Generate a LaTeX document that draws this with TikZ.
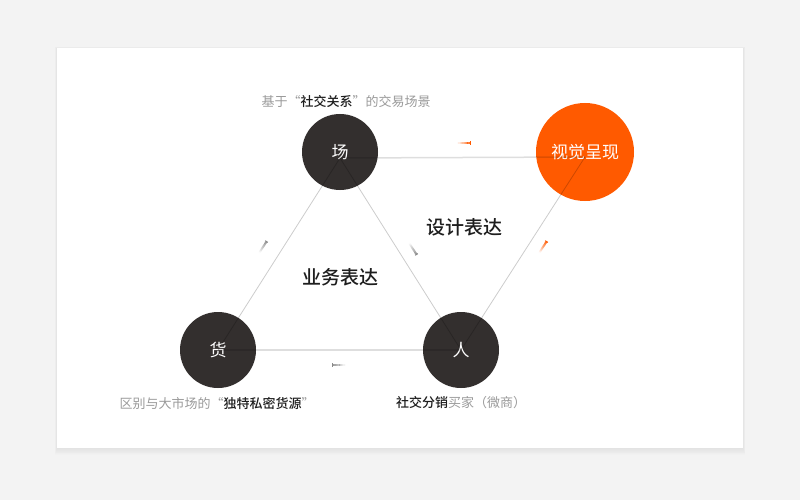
\documentclass[tikz,border=0pt]{standalone}
\usepackage{fontspec}
\setmainfont{Noto Sans CJK SC}
\newfontfamily\medfont{Noto Sans CJK SC Medium}
\usetikzlibrary{calc}
\definecolor{bgGray}{HTML}{F3F3F3}
\definecolor{dotDark}{HTML}{332F2E}
\definecolor{dotOrange}{HTML}{FF5A00}
\definecolor{capGray}{HTML}{9A9A9A}
\definecolor{capBlack}{HTML}{1E1E1E}
\definecolor{streakGray}{HTML}{8A8A8A}
% streak[colour](x,y)(angle): short fading dash that marks the flow
\def\streak[#1](#2)(#3){\begin{scope}[shift={(#2)},rotate=#3]
	\foreach \i in {0,...,9} \fill[#1,opacity=\i/11+0.02] ({-7+\i*1.3},-1) rectangle ({-5.6+\i*1.3},1);
	\fill[#1] (5.9,-1.6) rectangle (7,1.6);
	\end{scope}}
\tikzset{
	dot/.style={circle, fill=dotDark, text=white, minimum size=76pt, inner sep=0pt, font=\fontsize{17}{17}\selectfont},
	bigdot/.style={dot, fill=dotOrange, minimum size=98pt},
	slant/.style={draw=black, draw opacity=0.2, line width=0.8pt},
	flat/.style={draw=black, draw opacity=0.13, line width=1.5pt},
	note/.style={text=capGray, font=\fontsize{13}{13}\selectfont, inner sep=0pt},
	headline/.style={text=capBlack, font=\medfont\fontsize{19}{19}\selectfont, inner sep=0pt}
}
\def\key#1{\textcolor{capBlack}{\medfont #1}}

\begin{document}
\begin{tikzpicture}[x=1pt,y=-1pt]
			%%%%% START %%%%%
			
			\fill[bgGray] (0,0) rectangle (800,500);
			\useasboundingbox (0,0) rectangle (800,500);
			\foreach \i in {1,...,8} \fill[black,opacity=0.008] ({57-\i*0.3},{48-\i*0.1}) rectangle ({743+\i*0.3},{448+\i*0.9});
			\fill[white] (57,48) rectangle (743,448);
			
			\node[dot] (chang) at (340,152) {场};
			\node[dot] (huo) at (218,350) {货};
			\node[dot] (ren) at (461,350) {人};
			\node[bigdot] (look) at (585,152) {视觉呈现};
			
			\coordinate (chang-in) at ([yshift=-6pt]chang.center);
			\coordinate (look-in) at ([yshift=-5pt]look.center);
			
			\draw[flat] (chang-in) -- (look-in);
			\draw[flat] (huo.center) -- (ren.center);
			\draw[slant] (huo.center) -- (chang-in);
			\draw[slant] (chang-in) -- (ren.center);
			\draw[slant] (ren.center) -- (look-in);
			
			\streak[dotOrange](464,143)(0)
			\streak[dotOrange](543,247)(57)
			\streak[streakGray](263,247)(57)
			\streak[streakGray](413,249)(-57)
			\streak[streakGray](339,365)(180)
			
			\node[headline] (design) at (464,227) {设计表达};
			\node[headline] (business) at (340,277) {业务表达};
			
			\node[note] (chang-note) at (346,101) {基于“\key{社交关系}”的交易场景};
			\node[note] (huo-note) at (217,403) {区别与大市场的“\key{独特私密货源}”};
			\node[note] (ren-note) at (461,403) {\key{社交分销}买家（微商）};
			
			%%%%% END %%%%%
\end{tikzpicture}
\end{document}
